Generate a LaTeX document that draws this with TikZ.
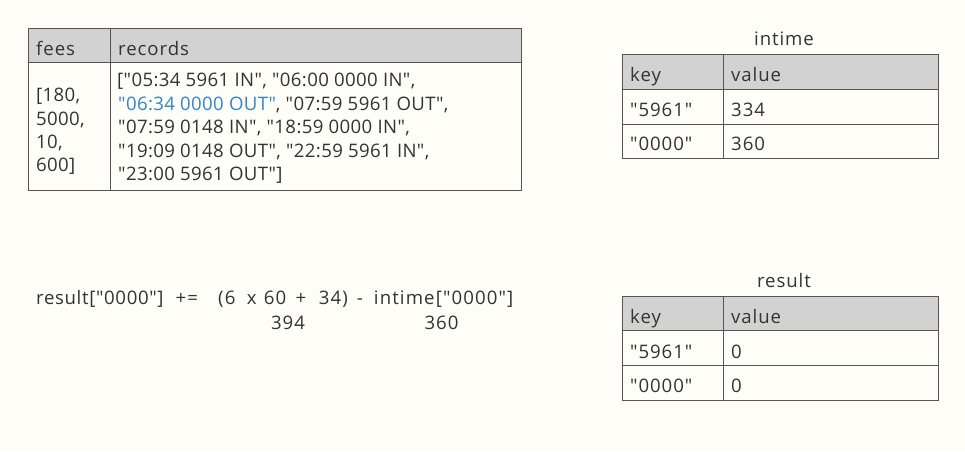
\documentclass[tikz,border=0pt]{standalone}
\usepackage{fontspec}
\newfontfamily\tf[LetterSpace=5]{Open Sans}
\newfontfamily\rf[LetterSpace=2]{Open Sans}
\newfontfamily\ef[LetterSpace=6]{Open Sans}
\newfontfamily\eaf[LetterSpace=3.5]{Open Sans}
\begin{document}
\begin{tikzpicture}[x=1pt,y=-1pt,
  txt/.style={anchor=base west,inner sep=0pt,text=textgray,font=\tf\fontsize{18.6}{22}\selectfont},
  rec/.style={txt,font=\rf\fontsize{18.6}{22}\selectfont},
  eq/.style={anchor=base,inner sep=0pt,text=textgray,font=\tf\fontsize{18.6}{22}\selectfont},
  hdr/.style={fill=hdrgray,draw=linegray,line width=1pt},
  cell/.style={draw=linegray,line width=1pt}]
\definecolor{bg}{HTML}{FFFDF8}
\definecolor{hdrgray}{HTML}{D2D2D2}
\definecolor{linegray}{HTML}{555555}
\definecolor{textgray}{HTML}{333333}
\definecolor{blue}{HTML}{2F86C9}
\useasboundingbox[fill=bg] (0,0) rectangle (965,451);
% table 1
\draw[hdr] (28,28) rectangle (521,62);
\draw[cell] (28,62) rectangle (521,190);
\draw[cell] (110,28) -- (110,190);
\node[txt] (fees) at (36,55) {fees};
\node[txt] (records) at (118,55) {records};
\node[rec] (f1) at (36,101.5) {[180,};
\node[rec] (f2) at (36,125) {5000,};
\node[rec] (f3) at (36,148) {10,};
\node[rec] (f4) at (36,171.5) {600]};
\node[rec] (r1) at (117,86.5) {["05:34 5961 IN", "06:00 0000 IN",};
\node[rec] (r2) at (118,110) {\textcolor{blue}{"06:34 0000 OUT"}, "07:59 5961 OUT",};
\node[rec] (r3) at (118,133.5) {"07:59 0148 IN", "18:59 0000 IN",};
\node[rec] (r4) at (118,157) {"19:09 0148 OUT", "22:59 5961 IN",};
\node[rec] (r5) at (118,180.5) {"23:00 5961 OUT"]};
% intime
\node[eq] (intime) at (784,45.5) {intime};
\draw[hdr] (622,54) rectangle (938,89);
\draw[cell] (622,89) rectangle (938,158);
\draw[cell] (622,124) -- (938,124);
\draw[cell] (723,54) -- (723,158);
\node[txt] (ik) at (630,81.5) {key};
\node[txt] (iv) at (731,81.5) {value};
\node[txt] (ik1) at (630,116.5) {"5961"};
\node[txt] (iv1) at (731,116.5) {334};
\node[txt] (ik2) at (630,150.5) {"0000"};
\node[txt] (iv2) at (731,150.5) {360};
% result
\node[eq] (rtitle) at (784,287) {result};
\draw[hdr] (622,296) rectangle (938,330);
\draw[cell] (622,330) rectangle (938,400);
\draw[cell] (622,365) -- (938,365);
\draw[cell] (723,296) -- (723,400);
\node[txt] (rk) at (630,323) {key};
\node[txt] (rv) at (731,323) {value};
\node[txt] (rk1) at (630,358) {"5961"};
\node[txt] (rv1) at (731,358) {0};
\node[txt] (rk2) at (630,392) {"0000"};
\node[txt] (rv2) at (731,392) {0};
% equation
\node[txt,font=\ef\fontsize{18.6}{22}\selectfont] (eqn) at (36,304)
  {\rlap{\eaf result["0000"]}\hspace{139.4pt}\rlap{+=}\hspace{42.6pt}\rlap{(6}\hspace{28.7pt}\rlap{x}\hspace{17pt}\rlap{60}\hspace{31.7pt}\rlap{+}\hspace{23.3pt}\rlap{34)}\hspace{38pt}\rlap{-}\hspace{17pt}intime["0000"]};
\node[eq] (n394) at (288,329) {394};
\node[eq] (n360) at (441.5,329) {360};
\end{tikzpicture}
\end{document}
